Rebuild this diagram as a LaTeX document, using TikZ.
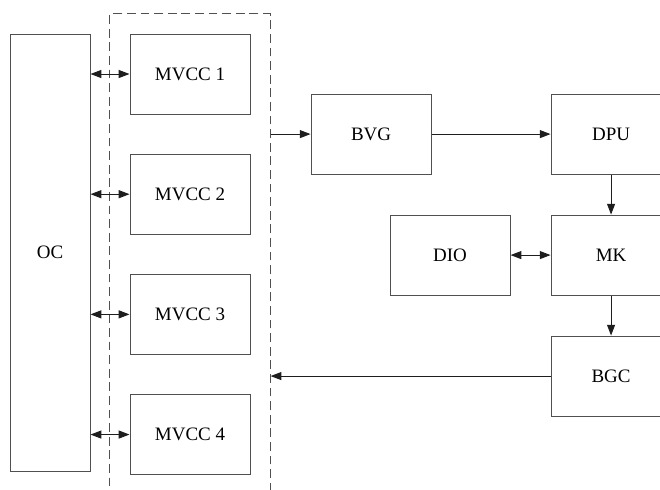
\documentclass[tikz,border=0pt]{standalone}
\usepackage{fontspec}
\setmainfont{Liberation Serif}
\usepackage{xcolor}
\usepackage{tikz}
\usetikzlibrary{arrows.meta,positioning,fit,calc}
\definecolor{boxline}{RGB}{80,80,80}
\definecolor{linkline}{RGB}{30,30,30}
\tikzset{
  unitbox/.style={
    rectangle,
    draw=boxline,
    line width=0.7pt,
    align=center,
    minimum width=3cm,
    minimum height=2cm,
    inner sep=4pt,
    font=\fontsize{13.5}{16}\selectfont
  },
  groupbox/.style={
    rectangle,
    draw=boxline,
    line width=0.7pt,
    dash pattern=on 0.22cm off 0.12cm,
    inner sep=0.49cm
  },
  linkarrow/.style={
    -{Triangle[length=2.7mm,width=2mm]},
    line width=0.7pt,
    draw=linkline
  },
  bilink/.style={
    {Triangle[length=2.7mm,width=2mm]}-{Triangle[length=2.7mm,width=2mm]},
    line width=0.7pt,
    draw=linkline
  }
}

\begin{document}
\begin{tikzpicture}[node distance=0.98cm and 1cm]
\useasboundingbox (0,0) rectangle (16.5,-12.225);

% converter column
\node[unitbox] (mv1) at (4.75,-1.85) {MVCC 1};
\node[unitbox, below=of mv1] (mv2) {MVCC 2};
\node[unitbox, below=of mv2] (mv3) {MVCC 3};
\node[unitbox, below=of mv3] (mv4) {MVCC 4};
\node[unitbox, minimum width=2cm, minimum height=10.94cm,
      left=0.975cm of mv1.north west, anchor=north east] (oc) {OC};
\node[groupbox, fit=(mv1)(mv4)] (grp) {};

% control chain
\coordinate (mid12) at ($(mv1)!0.5!(mv2)$);
\coordinate (bvgin) at (grp.east |- mid12);
\node[unitbox, right=1cm of bvgin] (bvg) {BVG};
\node[unitbox, right=2.975cm of bvg] (dpu) {DPU};
\node[unitbox, below=1cm of dpu] (mk) {MK};
\node[unitbox, left=1cm of mk] (dio) {DIO};
\node[unitbox, below=1cm of mk] (bgc) {BGC};
\coordinate (bgcout) at (grp.east |- bgc);

\foreach \i in {1,...,4}
  \draw[bilink] (oc.east |- mv\i) -- (mv\i);

\draw[linkarrow] (bvgin) -- (bvg);
\draw[linkarrow] (bvg) -- (dpu);
\draw[linkarrow] (dpu) -- (mk);
\draw[bilink] (dio) -- (mk);
\draw[linkarrow] (mk) -- (bgc);
\draw[linkarrow] (bgc) -- (bgcout);
\end{tikzpicture}
\end{document}
